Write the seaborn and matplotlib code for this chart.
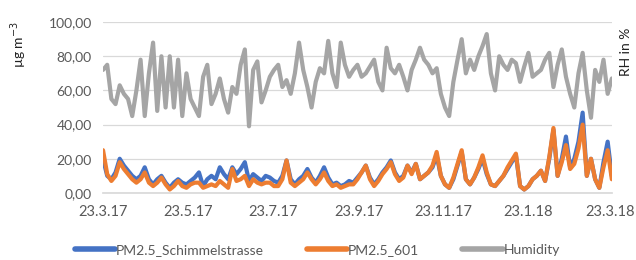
import numpy as np
import pandas as pd
import matplotlib
matplotlib.use("Agg")
import matplotlib.pyplot as plt
import seaborn as sns
from matplotlib.lines import Line2D

start_date = "2017-03-23"
step_days = 3

pm_schimmel = [20, 10, 8, 12, 20, 16, 13, 10, 8, 10, 15, 8, 5, 8, 10, 6, 3, 6, 8, 6,
               5, 7, 9, 12, 4, 8, 10, 8, 15, 11, 8, 15, 11, 14, 18, 7, 11, 9, 7, 10,
               9, 7, 6, 10, 19, 8, 5, 8, 10, 14, 9, 6, 10, 15, 9, 5, 6, 4, 5, 7,
               6, 9, 12, 16, 9, 5, 8, 12, 15, 19, 12, 8, 10, 16, 12, 17, 8, 10, 12, 15,
               22, 10, 5, 3, 8, 16, 24, 8, 5, 9, 14, 20, 11, 5, 4, 7, 10, 14, 18, 22,
               4, 2, 4, 8, 10, 13, 7, 20, 37, 10, 20, 33, 15, 20, 30, 47, 10, 20, 8, 3,
               18, 30, 10]
pm_601 = [25, 11, 7, 10, 18, 14, 11, 8, 6, 8, 12, 6, 4, 6, 9, 5, 2, 4, 7, 4,
          3, 5, 6, 6, 3, 4, 5, 4, 7, 5, 3, 14, 7, 8, 10, 4, 8, 6, 5, 6,
          6, 4, 4, 8, 19, 6, 4, 6, 8, 12, 8, 5, 8, 12, 7, 4, 5, 3, 4, 5,
          5, 8, 12, 16, 8, 4, 7, 11, 14, 18, 11, 7, 9, 16, 11, 17, 8, 10, 12, 16,
          24, 10, 5, 3, 9, 17, 25, 8, 5, 9, 15, 22, 12, 5, 4, 7, 10, 15, 19, 23,
          4, 2, 4, 8, 10, 13, 7, 21, 38, 10, 18, 28, 14, 17, 26, 40, 10, 20, 8, 3,
          15, 25, 8]
humidity = [72, 75, 55, 52, 63, 58, 55, 45, 60, 78, 45, 70, 88, 48, 80, 50, 80, 50, 78, 45,
            70, 55, 50, 45, 68, 75, 52, 58, 67, 55, 47, 62, 58, 75, 84, 39, 72, 77, 53, 60,
            68, 72, 75, 62, 66, 58, 70, 88, 72, 62, 50, 65, 73, 70, 89, 70, 62, 88, 75, 68,
            72, 75, 68, 70, 74, 78, 65, 60, 85, 73, 70, 75, 68, 60, 72, 78, 85, 78, 75, 70,
            73, 58, 50, 45, 65, 78, 90, 70, 78, 72, 80, 86, 93, 70, 60, 80, 75, 72, 78, 76,
            65, 74, 82, 68, 70, 72, 78, 82, 62, 75, 84, 68, 58, 50, 70, 82, 60, 44, 72, 65,
            78, 58, 67]

series_names = ["PM2.5_Schimmelstrasse", "PM2.5_601", "Humidity"]
colors = ["#4472C4", "#ED7D31", "#A5A5A5"]
xtick_labels = ["23.3.17", "23.5.17", "23.7.17", "23.9.17", "23.11.17", "23.1.18", "23.3.18"]
xtick_dates = ["2017-03-23", "2017-05-23", "2017-07-23", "2017-09-23", "2017-11-23", "2018-01-23", "2018-03-23"]
ytick_values = [0, 20, 40, 60, 80, 100]
ytick_labels = ["0,00", "20,00", "40,00", "60,00", "80,00", "100,00"]

dates = pd.date_range(start_date, periods=len(humidity), freq=f"{step_days}D")
df = pd.concat([
    pd.DataFrame({"date": dates, "value": vals, "series": name})
    for name, vals in zip(series_names, [pm_schimmel, pm_601, humidity])
], ignore_index=True)

sns.set_theme(style="white")
plt.rcParams["font.family"] = ["Lato", "DejaVu Sans"]
text_color = "#595959"

fig = plt.figure(figsize=(6.36, 2.60), dpi=100)
ax = fig.add_axes([0.162, 0.258, 0.800, 0.657])

sns.lineplot(data=df, x="date", y="value", hue="series", hue_order=series_names,
             palette=dict(zip(series_names, colors)), linewidth=3.0, ax=ax,
             legend=False, estimator=None)

ax.set_ylim(0, 100)
ax.set_xlim(pd.Timestamp("2017-03-23"), pd.Timestamp("2018-03-24"))
ax.set_yticks(ytick_values)
ax.set_yticklabels(ytick_labels)
ax.set_xticks([pd.Timestamp(d) for d in xtick_dates])
ax.set_xticklabels(xtick_labels)
ax.tick_params(axis="y", labelsize=10, colors=text_color, length=0, pad=8)
ax.tick_params(axis="x", labelsize=10.5, labelcolor=text_color, length=4,
               color="#D9D9D9", direction="out", pad=5)
ax.yaxis.grid(True, color="#D9D9D9", linewidth=0.9)
ax.xaxis.grid(False)
for s in ["top", "right", "left"]:
    ax.spines[s].set_visible(False)
ax.spines["bottom"].set_color("#D9D9D9")
ax.set_xlabel("")
ax.set_ylabel("")

fig.text(0.030, 0.83, "µg m$^{-3}$", rotation=90, ha="center", va="center",
         fontsize=10, color="#222222")
fig.text(0.984, 0.80, "RH in %", rotation=90, ha="center", va="center",
         fontsize=10, color="#222222")

handles = [Line2D([0], [0], color=c, linewidth=4, solid_capstyle="round") for c in colors]
fig.legend(handles, series_names, loc="center", bbox_to_anchor=(0.499, 0.038), ncol=3,
           frameon=False, fontsize=10, handlelength=2.9, handletextpad=0.05,
           columnspacing=3.1, labelcolor=text_color)

fig.savefig("out.png", dpi=100)
